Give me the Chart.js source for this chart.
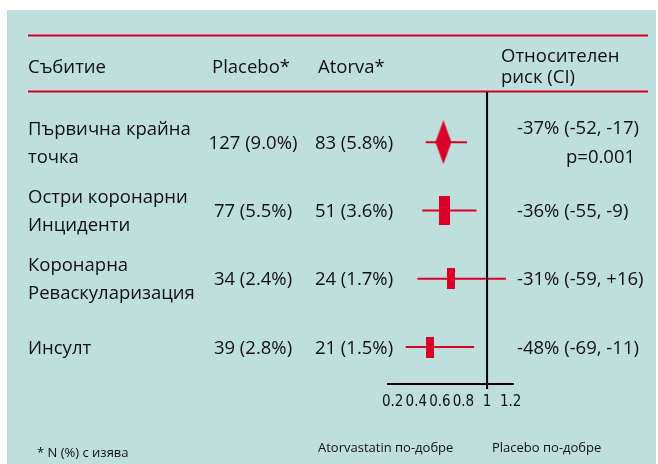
<!DOCTYPE html>
<html>
<head>
<meta charset="utf-8">
<script src="https://cdn.jsdelivr.net/npm/chart.js@4/dist/chart.umd.min.js"></script>
<style>
    html, body { margin: 0; padding: 0; background: #fff; }
    .grafica { width: 658px; height: 464px; }
</style>
</head>
<body>
<div class="grafica"><canvas id="myChart"></canvas></div>
<script>
// datos
const eventos = [['Първична крайна', 'точка'], ['Остри коронарни', 'Инциденти'], ['Коронарна', 'Реваскуларизация'], ['Инсулт']];
const placebo = ['127 (9.0%)', '77 (5.5%)', '34 (2.4%)', '39 (2.8%)'];
const atorva = ['83 (5.8%)', '51 (3.6%)', '24 (1.7%)', '21 (1.5%)'];
const riesgoTexto = ['-37% (-52, -17)', '-36% (-55, -9)', '-31% (-59, +16)', '-48% (-69, -11)'];
const riesgo = [0.63, 0.64, 0.69, 0.52];
const ciBajo = [0.48, 0.45, 0.41, 0.31];
const ciAlto = [0.83, 0.91, 1.16, 0.89];
const xTicks = [0.2, 0.4, 0.6, 0.8, 1, 1.2];
const xTickLabels = ['0.2', '0.4', '0.6', '0.8', '1', '1.2'];

const rojo = 'rgb(218, 0, 42)';
const fondo = 'rgb(191, 223, 221)';
const negro = '#111';
const fuente = "'Open Sans', 'Noto Sans', sans-serif";

// marcadores: rombo para el primero, rectangulos para los demas
function marcador(w, h, rombo) {
    const c = document.createElement('canvas');
    c.width = w;
    c.height = h;
    const ctx = c.getContext('2d');
    ctx.fillStyle = rojo;
    if (rombo) {
        ctx.beginPath();
        ctx.moveTo(w / 2, 0);
        ctx.lineTo(w, h / 2);
        ctx.lineTo(w / 2, h);
        ctx.lineTo(0, h / 2);
        ctx.closePath();
        ctx.fill();
    } else {
        ctx.fillRect(0, 0, w, h);
    }
    return c;
}
const marcadores = [marcador(16, 44, true), marcador(11, 29, false), marcador(8, 21, false), marcador(8, 21, false)];

function texto(ctx, str, x, y, size, align) {
    ctx.font = size + 'px ' + fuente;
    ctx.textAlign = align || 'left';
    ctx.textBaseline = 'alphabetic';
    ctx.fillText(str, x, y);
}

const tabla = {
    id: 'tabla',
    beforeDraw(chart) {
        const ctx = chart.ctx;
        ctx.save();
        ctx.fillStyle = '#fff';
        ctx.fillRect(0, 0, chart.width, chart.height);
        ctx.fillStyle = fondo;
        ctx.fillRect(7, 10, 649, 454);

        // lineas rojas del encabezado
        ctx.strokeStyle = rojo;
        ctx.lineWidth = 2;
        [35.5, 91.5].forEach(function(y) {
            ctx.beginPath();
            ctx.moveTo(28, y);
            ctx.lineTo(648, y);
            ctx.stroke();
        });

        ctx.fillStyle = negro;
        texto(ctx, 'Събитие', 28, 73, 18.5);
        texto(ctx, 'Placebo*', 212, 73, 18.5);
        texto(ctx, 'Atorva*', 318, 73, 18.5);
        texto(ctx, 'Относителен', 501, 62, 18.5);
        texto(ctx, 'риск (CI)', 501, 83, 18.5);

        const yScale = chart.scales.y;
        eventos.forEach(function(ev, i) {
            const y = yScale.getPixelForValue(i);
            if (ev.length > 1) {
                texto(ctx, ev[0], 28, y - 14 + 6.5, 18.5);
                texto(ctx, ev[1], 28, y + 14 + 6.5, 18.5);
            } else {
                texto(ctx, ev[0], 28, y + 6.5, 18.5);
            }
            texto(ctx, placebo[i], 253, y + 6.5, 18.5, 'center');
            texto(ctx, atorva[i], 354, y + 6.5, 18.5, 'center');
            if (i === 0) {
                texto(ctx, riesgoTexto[i], 517, y - 15 + 6.5, 18.5);
                texto(ctx, 'p=0.001', 566, y + 14 + 6.5, 18.5);
            } else {
                texto(ctx, riesgoTexto[i], 517, y + 6.5, 18.5);
            }
        });

        texto(ctx, '* N (%) с изява', 37, 457, 13);
        texto(ctx, 'Atorvastatin по-добре', 318, 452, 13);
        texto(ctx, 'Placebo по-добре', 492, 452, 13);
        ctx.restore();
    },
    afterDatasetsDraw(chart) {
        const ctx = chart.ctx;
        const x = chart.scales.x.getPixelForValue(1);
        ctx.save();
        ctx.strokeStyle = '#000';
        ctx.lineWidth = 2;
        ctx.beginPath();
        ctx.moveTo(x, 92);
        ctx.lineTo(x, chart.chartArea.bottom + 5);
        ctx.stroke();
        ctx.restore();
    }
};

const datasets = ciBajo.map(function(lo, i) {
    return {
        data: [{ x: lo, y: i }, { x: ciAlto[i], y: i }],
        showLine: true,
        borderColor: rojo,
        borderWidth: 2,
        pointRadius: 0
    };
});
datasets.push({
    data: riesgo.map(function(v, i) { return { x: v, y: i }; }),
    pointStyle: marcadores,
    pointRadius: 5,
    backgroundColor: rojo,
    borderColor: rojo
});

const config = {
    type: 'scatter',
    data: { datasets: datasets },
    options: {
        responsive: false,
        animation: false,
        devicePixelRatio: 1,
        layout: { padding: { left: 388, right: 145, top: 108, bottom: 50 } },
        plugins: { legend: { display: false }, tooltip: { enabled: false } },
        scales: {
            x: {
                type: 'linear',
                min: 0.16,
                max: 1.22,
                afterBuildTicks: function(scale) {
                    scale.ticks = xTicks.map(function(v) { return { value: v }; });
                },
                afterFit: function(scale) { scale.height = 30; },
                grid: { display: false, drawTicks: false },
                border: { display: true, color: '#000', width: 2 },
                ticks: {
                    padding: 9,
                    color: '#111',
                    font: { family: "'Liberation Sans Narrow', 'DejaVu Sans Condensed', sans-serif", size: 15 },
                    maxRotation: 0,
                    autoSkip: false,
                    callback: function(v, i) { return xTickLabels[i]; }
                }
            },
            y: {
                type: 'linear',
                min: -0.5,
                max: 3.54,
                reverse: true,
                display: false
            }
        }
    },
    plugins: [tabla]
};

const canvas = document.getElementById('myChart');
canvas.width = 658;
canvas.height = 464;
const myChart = new Chart(canvas, config);
</script>
</body>
</html>
